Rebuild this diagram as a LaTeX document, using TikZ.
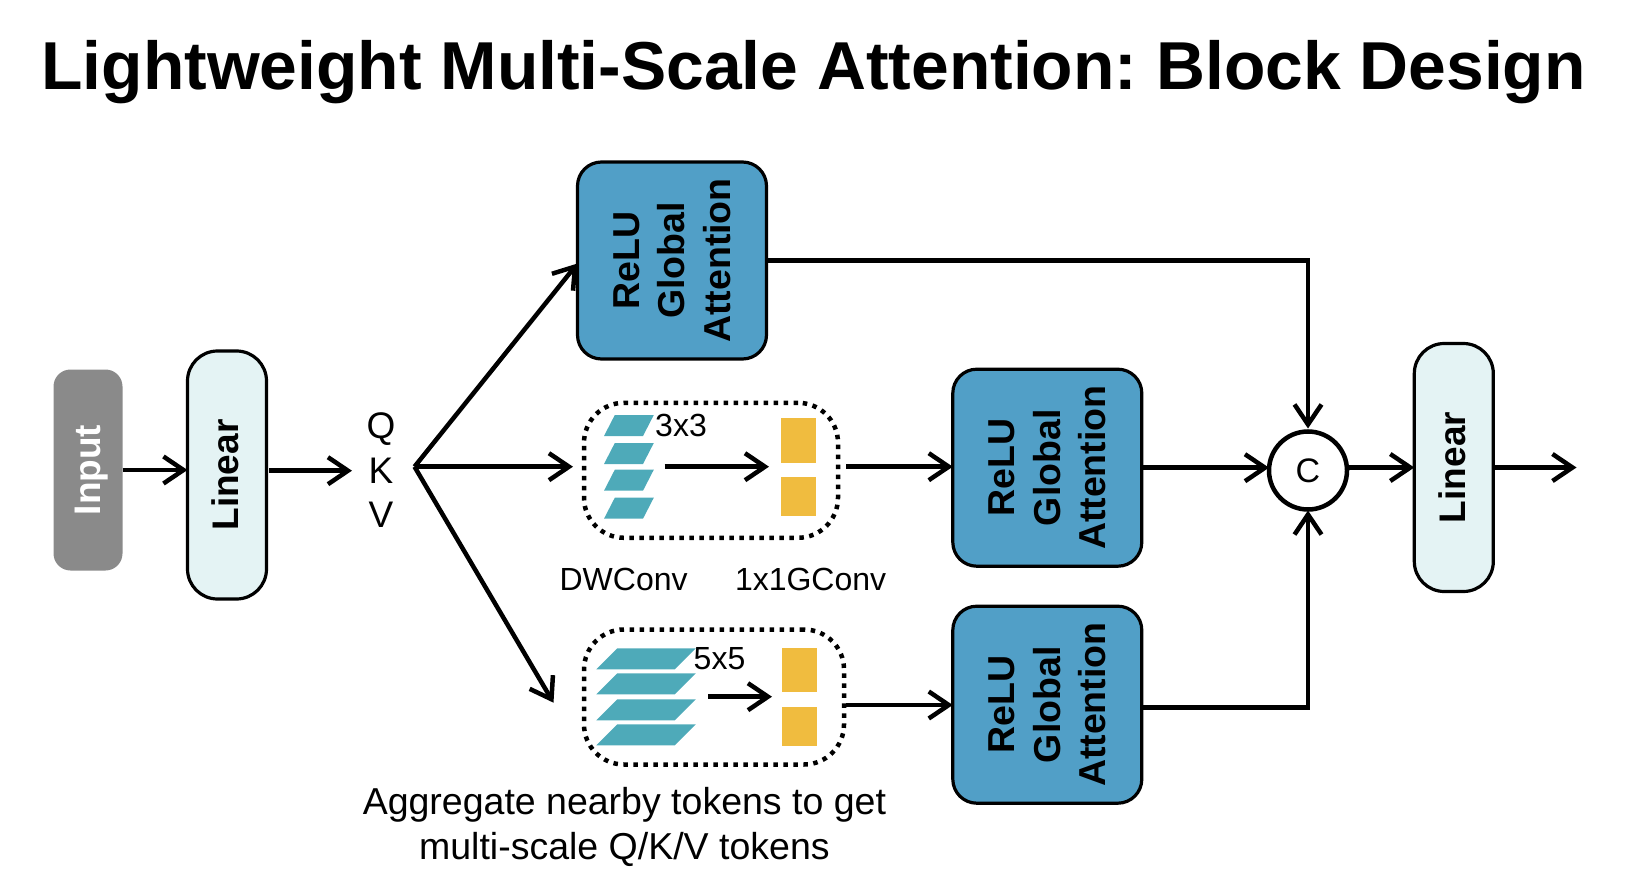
\documentclass[tikz,border=0pt]{standalone}
\usepackage{fontspec}
\setmainfont{Liberation Sans}
\frenchspacing
\usetikzlibrary{positioning,arrows.meta}
\definecolor{inputgray}{HTML}{8A8A8A}
\definecolor{linearfill}{HTML}{E4F3F4}
\definecolor{attnblue}{HTML}{519FC7}
\definecolor{slabteal}{HTML}{4EAAB9}
\definecolor{baryellow}{HTML}{F0BC3F}
\tikzset{
>={Straight Barb[length=20pt,width=27pt,line width=4.5pt]},
  flow/.style={draw, line width=4.5pt, ->},
  inputbox/.style={
    rectangle,
    rounded corners=17pt,
    fill=inputgray,
    text=white,
    text depth=0pt,
    font=\fontsize{37}{44}\selectfont\bfseries,
    minimum width=201pt,
    minimum height=69pt,
    rotate=90},
  linearbox/.style={
    rectangle,
    rounded corners=30pt,
    fill=linearfill,
    draw=black, line width=3.2pt,
    outer sep=0pt,
    text depth=4pt,
    font=\fontsize{37}{44}\selectfont\bfseries,
    minimum width=248pt,
    minimum height=79pt,
    rotate=90},
  attnbox/.style={
    rectangle,
    rounded corners=24pt,
    fill=attnblue,
    draw=black, line width=3.2pt,
    outer sep=0pt,
    font=\fontsize{37.5}{45.5}\selectfont\bfseries,
    align=center,
    minimum width=197pt,
    minimum height=189pt,
    rotate=90},
  dotbox/.style={
    rectangle,
    rounded corners=40pt,
    draw=black, line width=4.5pt,
    dash pattern=on 4.5pt off 5.5pt,
    minimum height=135pt},
  slab/.style={fill=slabteal},
  yellowbar/.style={fill=baryellow, minimum width=35pt, inner sep=0pt},
  lbl/.style={font=\fontsize{32}{38}\selectfont, inner sep=0pt},
  note/.style={font=\fontsize{37.5}{44.8}\selectfont, align=center, inner sep=0pt},
}
\begin{document}
\begin{tikzpicture}[x=1pt,y=1pt]
    \useasboundingbox (0,0) rectangle (1644,-896);
    \node[font=\fontsize{67.8}{70}\selectfont\bfseries, inner sep=0pt] (title) at (813.5,-72) {Lightweight Multi-Scale Attention: Block Design};

    \node[inputbox] (input) at (88,-470) {Input};
    \node[linearbox] (lin1) at (227,-475) {Linear};
    \node[inner sep=0pt, font=\fontsize{37}{44.5}\selectfont, align=center] (qkv) at (381,-470.5) {Q\\K\\V};

    \node[attnbox] (attn1) at (672,-260.5) {ReLU\\Global\\Attention};
    \node[attnbox] (attn2) at (1047.3,-467.7) {ReLU\\Global\\Attention};
    \node[attnbox] (attn3) at (1047.3,-704.7) {ReLU\\Global\\Attention};

    \node[dotbox, minimum width=254pt] (dot1) at (711,-470.3) {};
    \node[dotbox, minimum width=260pt] (dot2) at (714,-697) {};

    % 3x3 kernels
    \fill[slab] (604,-436) -- ++(10.8,21) -- ++(39,0) -- ++(-10.8,-21) -- cycle;
    \fill[slab] (604,-464) -- ++(10.8,21) -- ++(39,0) -- ++(-10.8,-21) -- cycle;
    \fill[slab] (604,-490.7) -- ++(10.8,21) -- ++(39,0) -- ++(-10.8,-21) -- cycle;
    \fill[slab] (604,-518.7) -- ++(10.8,21) -- ++(39,0) -- ++(-10.8,-21) -- cycle;
    % 5x5 kernels
    \fill[slab] (596.4,-669.3) -- ++(21,21) -- ++(78.5,0) -- ++(-21,-21) -- cycle;
    \fill[slab] (596.4,-694.3) -- ++(21,21) -- ++(78.5,0) -- ++(-21,-21) -- cycle;
    \fill[slab] (596.4,-720.3) -- ++(21,21) -- ++(78.5,0) -- ++(-21,-21) -- cycle;
    \fill[slab] (596.4,-745.3) -- ++(21,21) -- ++(78.5,0) -- ++(-21,-21) -- cycle;

    \node[yellowbar, minimum height=45pt] (bar1) at (798.5,-440.5) {};
    \node[yellowbar, minimum height=39pt, below=14pt of bar1] (bar2) {};
    \node[yellowbar, minimum height=44pt] (bar3) at (799.6,-670.3) {};
    \node[yellowbar, minimum height=39pt, below=14pt of bar3] (bar4) {};

    \node[lbl] (k3) at (681,-425.7) {3x3};
    \node[lbl] (k5) at (719.5,-659) {5x5};
    \node[lbl] (dw) at (623.6,-579) {DWConv};
    \node[lbl, right=47pt of dw] (gc) {1x1GConv};
    \node[note] (agg) at (624.4,-827) {Aggregate nearby tokens to get\\multi-scale Q/K/V tokens};

    \node[circle, draw=black, fill=white, line width=4.5pt, minimum size=78pt, inner sep=0pt, outer sep=0pt, font=\fontsize{34}{40}\selectfont] (cat) at (1308,-470.5) {C};
    \node[linearbox] (lin2) at (1453.8,-467.5) {Linear};

    \coordinate (lin1out) at (269,-470.7);
    \coordinate (qkvin) at (352,-470.7);
    \coordinate (split) at (414.5,-466.7);
    \coordinate (dot1in) at (573,-466.7);
    \coordinate (diagend) at (553.5,-702.7);
    \coordinate (k3from) at (664.5,-466.7);
    \coordinate (k3to) at (769,-466.7);
    \coordinate (k5from) at (708,-696.7);
    \coordinate (k5to) at (772,-696.7);
    \coordinate (dot1out) at (846,-466.7);
    \coordinate (dot2out) at (846,-705);
    \coordinate (attn3out) at (1142,-707.5);
    \coordinate (out) at (1576.5,-467.5);

    \draw[flow] (input.south) -- (input.south -| lin1.north);
    \draw[flow] (lin1out) -- (qkvin);
    \draw[flow] (split) -- ([yshift=-3pt]attn1.north);
    \draw[flow] (split) -- (dot1in);
    \draw[flow] (split) -- (diagend);
    \draw[flow] (k3from) -- (k3to);
    \draw[flow] (k5from) -- (k5to);
    \draw[flow] (dot1out) -- (dot1out -| attn2.north);
    \draw[flow] (dot2out) -- (dot2out -| attn3.north);
    \draw[flow, shorten >=3pt] (attn1.south) -| (cat.north);
    \draw[flow] (attn2.south) -- (attn2.south -| cat.west);
    \draw[flow, shorten >=1pt] (attn3out) -| (cat.south);
    \draw[flow] (lin2.north -| cat.east) -- (lin2.north);
    \draw[flow] (lin2.south) -- (out);
\end{tikzpicture}
\end{document}
